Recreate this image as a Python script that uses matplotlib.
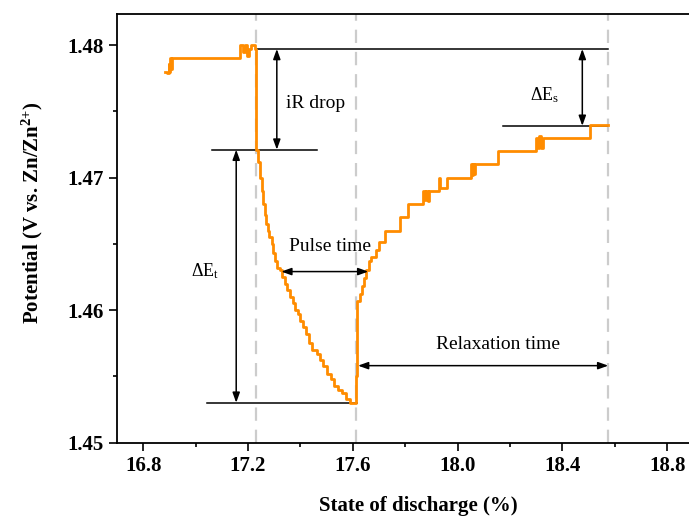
import matplotlib
matplotlib.use("Agg")
import matplotlib.pyplot as plt
from matplotlib.ticker import MultipleLocator

plt.rcParams['font.family'] = ['Liberation Serif', 'DejaVu Serif']
plt.rcParams['mathtext.default'] = 'regular'

# discharge curve (value holds until next point)
sod = [16.884, 16.892, 16.897, 16.900, 16.903, 16.906, 16.910,
       17.170, 17.182, 17.188, 17.196, 17.205, 17.212, 17.226,
       17.229, 17.238, 17.245, 17.252, 17.258, 17.263, 17.268, 17.275,
       17.282, 17.290, 17.296, 17.303, 17.310, 17.322, 17.330, 17.340,
       17.350, 17.360, 17.370, 17.380, 17.392, 17.400, 17.410, 17.423,
       17.433, 17.445, 17.465, 17.475, 17.485, 17.500, 17.515, 17.530,
       17.545, 17.560, 17.575, 17.590,
       17.612, 17.617, 17.626, 17.634, 17.642, 17.650, 17.660, 17.668,
       17.690, 17.700, 17.722, 17.780, 17.810, 17.868, 17.874, 17.880,
       17.886, 17.892, 17.930, 17.934, 17.960, 18.050, 18.055, 18.060,
       18.064, 18.068, 18.155, 18.300, 18.306, 18.312, 18.320, 18.326,
       18.506, 18.575]
potential = [1.4780, 1.4779, 1.4786, 1.4780, 1.4790, 1.4782, 1.4790,
             1.4800, 1.4795, 1.4800, 1.4792, 1.4797, 1.4800, 1.4797,
             1.4721, 1.4712, 1.4700, 1.4690, 1.4680, 1.4672, 1.4665, 1.4660,
             1.4655, 1.4650, 1.4643, 1.4637, 1.4632, 1.4630, 1.4625, 1.4620,
             1.4615, 1.4610, 1.4605, 1.4600, 1.4597, 1.4592, 1.4587, 1.4582,
             1.4575, 1.4570, 1.4567, 1.4562, 1.4558, 1.4552, 1.4548, 1.4543,
             1.4540, 1.4537, 1.4533, 1.4530,
             1.4550, 1.4607, 1.4612, 1.4618, 1.4624, 1.4630, 1.4637, 1.4640,
             1.4645, 1.4651, 1.4660, 1.4670, 1.4680, 1.4690, 1.4683, 1.4690,
             1.4682, 1.4690, 1.4700, 1.4692, 1.4700, 1.4710, 1.4702, 1.4710,
             1.4703, 1.4710, 1.4720, 1.4730, 1.4722, 1.4731, 1.4722, 1.4730,
             1.4740, 1.4740]

# marker positions
pulse_start = 17.23
pulse_end = 17.612
relax_end = 18.575
v_rest = 1.4797
v_drop = 1.4721
v_min = 1.4530
v_final = 1.4739

fig = plt.figure(figsize=(6.89, 5.21), dpi=100)
ax = fig.add_axes([117 / 689, 78.5 / 521, 576.4 / 689, 428.5 / 521])

for xv in [pulse_start, pulse_end, relax_end]:
    ax.axvline(xv, color='#cccccc', lw=1.6, ls=(0, (6, 4)), zorder=1)

ax.plot(sod, potential, color='#ff8c00', lw=2.0, drawstyle='steps-post', zorder=3)

# reference lines
ax.plot([pulse_start, relax_end], [v_rest, v_rest], color='black', lw=1.1, zorder=2)
ax.plot([17.064, 17.464], [v_drop, v_drop], color='black', lw=1.1, zorder=2)
ax.plot([17.044, 17.617], [v_min, v_min], color='black', lw=1.1, zorder=2)
ax.plot([18.174, 18.570], [v_final, v_final], color='black', lw=1.1, zorder=2)

arrow = dict(arrowstyle='<|-|>,head_length=0.5,head_width=0.18', color='black',
             lw=1.1, shrinkA=0, shrinkB=0, mutation_scale=12)
ax.annotate('', xy=(17.31, v_rest), xytext=(17.31, v_drop), arrowprops=arrow)
ax.annotate('', xy=(17.155, v_drop), xytext=(17.155, v_min), arrowprops=arrow)
ax.annotate('', xy=(17.327, 1.4629), xytext=(17.659, 1.4629), arrowprops=arrow)
ax.annotate('', xy=(17.620, 1.4558), xytext=(relax_end, 1.4558), arrowprops=arrow)
ax.annotate('', xy=(18.476, v_rest), xytext=(18.476, v_final), arrowprops=arrow)

ax.text(17.346, 1.4756, 'iR drop', fontsize=14, ha='left', va='center')
ax.text(17.514, 1.4648, 'Pulse time', fontsize=14, ha='center', va='center')
ax.text(18.155, 1.4574, 'Relaxation time', fontsize=14, ha='center', va='center')
ax.text(17.037, 1.4629, 'ΔE$_t$', fontsize=13, ha='center', va='center')
ax.text(18.334, 1.4762, 'ΔE$_s$', fontsize=13, ha='center', va='center')

ax.set_xlim(16.70, 18.90)
ax.set_ylim(1.45, 1.48234)
ax.xaxis.set_major_locator(MultipleLocator(0.4))
ax.xaxis.set_minor_locator(MultipleLocator(0.2))
ax.yaxis.set_major_locator(MultipleLocator(0.01))
ax.yaxis.set_minor_locator(MultipleLocator(0.005))
ax.set_xticks([16.8, 17.2, 17.6, 18.0, 18.4, 18.8])
ax.set_xticklabels(['16.8', '17.2', '17.6', '18.0', '18.4', '18.8'])
ax.set_yticks([1.45, 1.46, 1.47, 1.48])
ax.set_yticklabels(['1.45', '1.46', '1.47', '1.48'])

ax.tick_params(which='major', direction='out', length=6, width=1.2, labelsize=15)
ax.tick_params(which='minor', direction='out', length=3, width=1.2)
ax.tick_params(top=False, right=False)
for lbl in ax.get_xticklabels() + ax.get_yticklabels():
    lbl.set_fontweight('bold')
for sp in ax.spines.values():
    sp.set_linewidth(1.3)

ax.set_xlabel('State of discharge (%)', fontsize=15, fontweight='bold')
ax.set_ylabel('Potential (V vs. Zn/Zn$^{2{+}}$)', fontsize=15, fontweight='bold')
ax.xaxis.set_label_coords(0.522, -0.125)
ax.yaxis.set_label_coords(-0.125, 0.536)

fig.savefig('out.png', dpi=100)
